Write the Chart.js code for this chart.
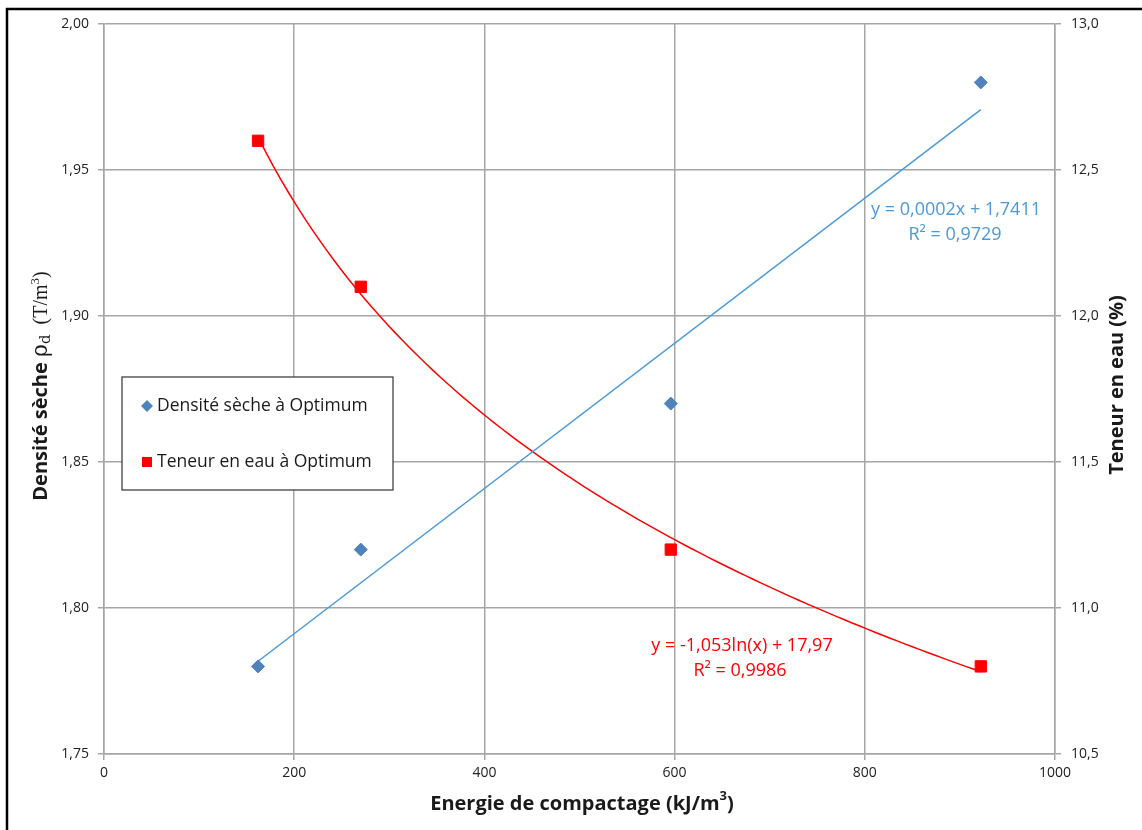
<!DOCTYPE html>
<html>
<head>
<meta charset="utf-8">
<script src="https://cdn.jsdelivr.net/npm/chart.js@4.4.1/dist/chart.umd.min.js"></script>
<style>
    html, body { margin: 0; padding: 0; background: white; }
    #wrap { width: 1142px; height: 830px; position: relative; }
</style>
</head>
<body>
<div id="wrap"><canvas id="chart"></canvas></div>
<script>
// Données
const energie = [162, 270, 596, 922];
const densite = [1.78, 1.82, 1.87, 1.98];
const teneur = [12.6, 12.1, 11.2, 10.8];

// Courbes de tendance (équations affichées sur le graphique)
const linSlope = 0.0002486;
const linIntercept = 1.7415;
const logA = -1.053;
const logB = 17.97;

const xTicks = [0, 200, 400, 600, 800, 1000];
const blue = '#4f81bd';
const trendBlue = '#4a9ad8';
const red = '#ff0000';
const font = '"Open Sans", "Noto Sans", sans-serif';

function comma(v, d) {
    return v.toFixed(d).replace('.', ',');
}

const linTrend = [energie[0], energie[energie.length - 1]].map(x => ({ x: x, y: linIntercept + linSlope * x }));
const logTrend = [];
for (let x = energie[0]; x <= energie[energie.length - 1]; x += 8) {
    logTrend.push({ x: x, y: logA * Math.log(x) + logB });
}

/**
 * Cadre, titres des axes, légende et équations.
 */
const decorPlugin = {
    id: 'decor',
    afterDraw(chart) {
        const ctx = chart.ctx;
        ctx.save();

        // cadre noir
        ctx.strokeStyle = '#000';
        ctx.lineWidth = 2.5;
        ctx.beginPath();
        ctx.moveTo(7, 835);
        ctx.lineTo(7, 9);
        ctx.lineTo(1150, 9);
        ctx.stroke();

        // titre axe X
        ctx.fillStyle = '#1a1a1a';
        ctx.textBaseline = 'alphabetic';
        ctx.font = 'bold 20px ' + font;
        const t1 = 'Energie de compactage (kJ/m';
        const w1 = ctx.measureText(t1).width;
        ctx.font = 'bold 13px ' + font;
        const wSup = ctx.measureText('3').width;
        ctx.font = 'bold 20px ' + font;
        const w2 = ctx.measureText(')').width;
        let x0 = 582 - (w1 + wSup + w2) / 2;
        ctx.fillText(t1, x0, 810);
        ctx.font = 'bold 13px ' + font;
        ctx.fillText('3', x0 + w1, 800);
        ctx.font = 'bold 20px ' + font;
        ctx.fillText(')', x0 + w1 + wSup, 810);

        // titre axe Y gauche
        ctx.save();
        ctx.translate(47, 386);
        ctx.rotate(-Math.PI / 2);
        const parts = [
            ['Densité sèche ', 'bold 20px ' + font, 0],
            ['ρ', '22px "DejaVu Serif", serif', 0],
            ['d', '15px "DejaVu Serif", serif', 3],
            ['  (T/m', '20px "Liberation Serif", serif', 0],
            ['3', '13px "Liberation Serif", serif', -8],
            [')', '20px "Liberation Serif", serif', 0]
        ];
        let total = 0;
        parts.forEach(p => { ctx.font = p[1]; total += ctx.measureText(p[0]).width; });
        let px = -total / 2;
        parts.forEach(p => {
            ctx.font = p[1];
            ctx.fillText(p[0], px, p[2]);
            px += ctx.measureText(p[0]).width;
        });
        ctx.restore();

        // titre axe Y droit
        ctx.save();
        ctx.translate(1116, 385);
        ctx.rotate(-Math.PI / 2);
        ctx.font = 'bold 20px ' + font;
        ctx.textAlign = 'center';
        ctx.fillText('Teneur en eau (%)', 0, 7);
        ctx.restore();

        // légende
        ctx.fillStyle = '#fff';
        ctx.fillRect(122, 377, 271, 113);
        ctx.strokeStyle = '#333';
        ctx.lineWidth = 1.2;
        ctx.strokeRect(122, 377, 271, 113);
        const legendItems = chart.data.datasets.slice(0, 2);
        legendItems.forEach((ds, i) => {
            const ly = 406 + i * 56;
            ctx.fillStyle = ds.backgroundColor;
            ctx.beginPath();
            if (ds.pointStyle === 'rectRot') {
                ctx.moveTo(147, ly - 6);
                ctx.lineTo(153, ly);
                ctx.lineTo(147, ly + 6);
                ctx.lineTo(141, ly);
            } else {
                ctx.rect(142, ly - 5, 10, 10);
            }
            ctx.fill();
            ctx.fillStyle = '#1a1a1a';
            ctx.font = '17.5px ' + font;
            ctx.textAlign = 'left';
            ctx.textBaseline = 'middle';
            ctx.fillText(ds.label, 157, ly);
        });

        // équations
        ctx.textAlign = 'center';
        ctx.textBaseline = 'middle';
        ctx.font = '18px ' + font;
        ctx.fillStyle = trendBlue;
        ctx.fillText('y = 0,0002x + 1,7411', 956, 210);
        ctx.fillText('R² = 0,9729', 955, 235);
        ctx.fillStyle = red;
        ctx.fillText('y = -1,053ln(x) + 17,97', 742, 646);
        ctx.fillText('R² = 0,9986', 740, 671);

        ctx.restore();
    }
};

new Chart(document.getElementById('chart'), {
    type: 'scatter',
    data: {
        datasets: [
            {
                label: 'Densité sèche à Optimum',
                data: energie.map((x, i) => ({ x: x, y: densite[i] })),
                backgroundColor: blue,
                borderColor: blue,
                pointStyle: 'rectRot',
                pointRadius: 6.5,
                yAxisID: 'y',
                order: 0
            },
            {
                label: 'Teneur en eau à Optimum',
                data: energie.map((x, i) => ({ x: x, y: teneur[i] })),
                backgroundColor: red,
                borderColor: red,
                pointStyle: 'rect',
                pointRadius: 8,
                yAxisID: 'y1',
                order: 0
            },
            {
                label: 'Linéaire',
                data: linTrend,
                showLine: true,
                borderColor: trendBlue,
                borderWidth: 1.5,
                pointRadius: 0,
                yAxisID: 'y',
                order: 1
            },
            {
                label: 'Log',
                data: logTrend,
                showLine: true,
                borderColor: red,
                borderWidth: 1.5,
                pointRadius: 0,
                tension: 0,
                yAxisID: 'y1',
                order: 1
            }
        ]
    },
    options: {
        responsive: true,
        maintainAspectRatio: false,
        animation: false,
        layout: { padding: { top: 24, left: 0, right: 0, bottom: 0 } },
        plugins: {
            legend: { display: false },
            tooltip: { enabled: false }
        },
        scales: {
            x: {
                type: 'linear',
                min: 0,
                max: 1000,
                afterBuildTicks: axis => { axis.ticks = xTicks.map(v => ({ value: v })); },
                afterFit: axis => { axis.height = 76; },
                grid: { color: '#a6a6a6', lineWidth: 1.5, tickLength: 6 },
                border: { color: '#a6a6a6', width: 1.5 },
                ticks: {
                    color: '#222',
                    font: { family: font, size: 14 },
                    padding: 5,
                    maxRotation: 0,
                    callback: v => String(v)
                }
            },
            y: {
                position: 'left',
                min: 1.75,
                max: 2.0,
                ticks: {
                    stepSize: 0.05,
                    color: '#222',
                    font: { family: font, size: 14 },
                    padding: 9,
                    callback: v => comma(v, 2)
                },
                afterFit: axis => { axis.width = 104; },
                grid: { color: '#a6a6a6', lineWidth: 1.5, tickLength: 6 },
                border: { color: '#a6a6a6', width: 1.5 }
            },
            y1: {
                position: 'right',
                min: 10.5,
                max: 13.0,
                ticks: {
                    stepSize: 0.5,
                    color: '#222',
                    font: { family: font, size: 14 },
                    padding: 10,
                    callback: v => comma(v, 1)
                },
                afterFit: axis => { axis.width = 87; },
                grid: { drawOnChartArea: false, color: '#a6a6a6', lineWidth: 1.5, tickLength: 6 },
                border: { color: '#a6a6a6', width: 1.5 }
            }
        }
    },
    plugins: [decorPlugin]
});
</script>
</body>
</html>
